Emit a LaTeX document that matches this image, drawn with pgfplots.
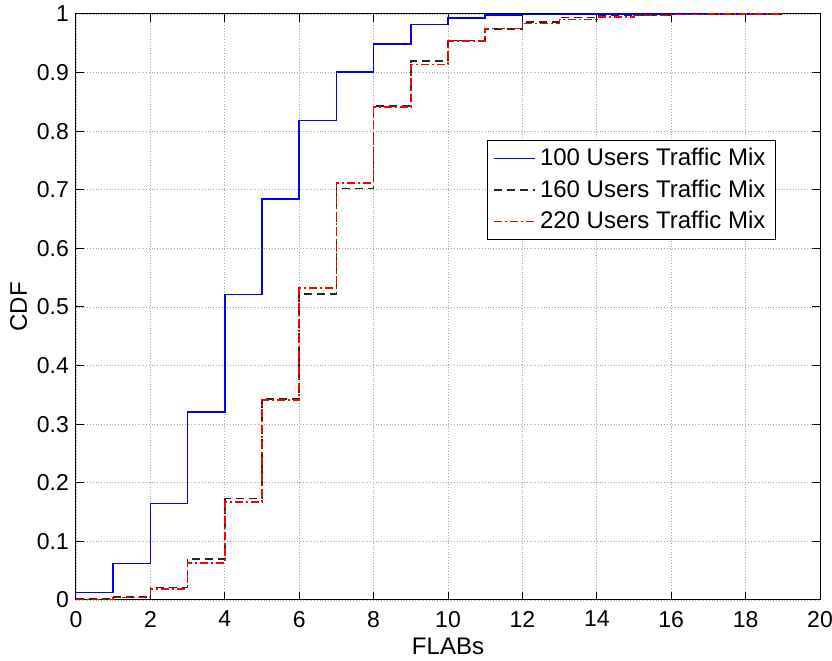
\documentclass[border=0pt]{standalone}
\usepackage{fontspec}
\setmainfont{Liberation Sans}
\usepackage{pgfplots}
\pgfplotsset{compat=1.18}
\usetikzlibrary{calc}
\begin{document}
\begin{tikzpicture}
\begin{axis}[
  scale only axis,
  width=372pt, height=293pt,
  xmin=0, xmax=20, ymin=0, ymax=1,
  xtick={0,2,...,20},
  ytick={0,0.1,...,1.0},
  yticklabels={0,0.1,0.2,0.3,0.4,0.5,0.6,0.7,0.8,0.9,1},
  tick align=inside,
  tick pos=both,
  major tick length=4pt,
  grid=major,
  grid style={densely dotted, gray!70, line width=0.4pt},
  axis line style={black, line width=0.5pt},
  tick style={black, line width=0.5pt},
  /pgf/number format/assume math mode=true,
  ticklabel style={font=\fontsize{11.5}{13}\selectfont},
  xticklabel style={yshift=-2pt},
  label style={font=\fontsize{12}{14}\selectfont},
  xlabel={FLABs},
  ylabel={CDF},
  xlabel style={yshift=1.5pt},
  ylabel style={yshift=-2pt},
  legend style={at={(0.5525,0.785)}, anchor=north west, draw=black, line width=0.5pt,
    font=\fontsize{12}{14}\selectfont, inner xsep=3pt, inner ysep=2pt, row sep=1.5pt,
    cells={anchor=west}},
  legend cell align=left,
  legend image code/.code={\draw[#1] (0cm,0cm) -- (0.72cm,0cm);},
]
\addplot[const plot, color=blue, line width=0.75pt] coordinates {
(0,0.013) (1,0.062) (2,0.165) (3,0.321) (4,0.521) (5,0.684) (6,0.818) (7,0.901) (8,0.949) (9,0.982) (10,0.993) (11,0.998) (12,0.999) (13,1.0) (14,1.0) (15,1.0) (16,1.0) (17,1.0) (18,1.0) (19,1.0)};
\addlegendentry{100 Users Traffic Mix}
\addplot[const plot, color=black!85, dash pattern=on 4pt off 2.5pt, line width=0.75pt] coordinates {
(0,0.002) (1,0.005) (2,0.021) (3,0.070) (4,0.173) (5,0.343) (6,0.522) (7,0.702) (8,0.843) (9,0.920) (10,0.955) (11,0.974) (12,0.986) (13,0.994) (14,0.997) (15,0.998) (16,0.999) (17,1.0) (18,1.0) (19,1.0)};
\addlegendentry{160 Users Traffic Mix}
\addplot[const plot, color=red, dash pattern=on 4pt off 1.5pt on 1pt off 1.5pt, line width=0.75pt] coordinates {
(0,0.001) (1,0.004) (2,0.019) (3,0.063) (4,0.167) (5,0.341) (6,0.532) (7,0.712) (8,0.841) (9,0.914) (10,0.954) (11,0.975) (12,0.984) (13,0.991) (14,0.995) (15,0.997) (16,0.999) (17,1.0) (18,1.0) (19,1.0)};
\addlegendentry{220 Users Traffic Mix}
\end{axis}
\pgfresetboundingbox
\useasboundingbox ($(current axis.south west)+(-38pt,-30.5pt)$) rectangle ($(current axis.north east)+(6pt,7pt)$);
\end{tikzpicture}
\end{document}
